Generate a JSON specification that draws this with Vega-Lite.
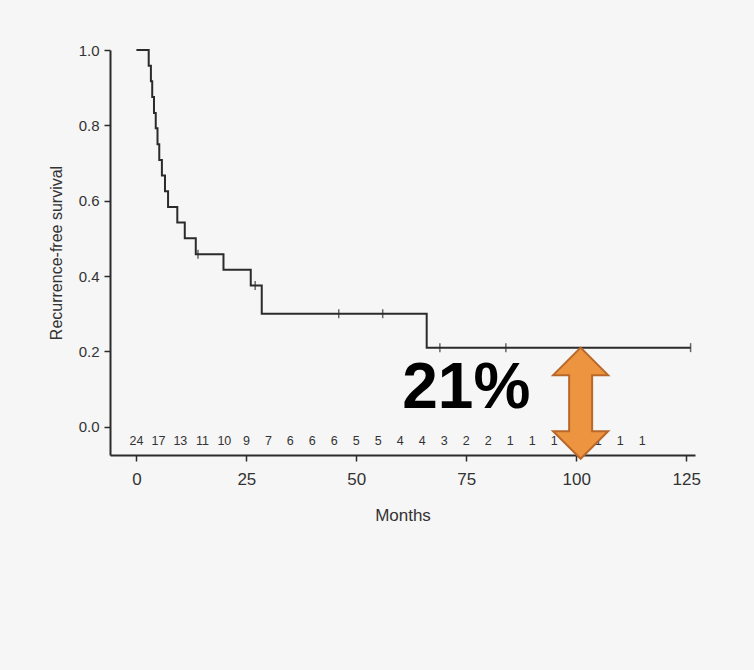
{
  "$schema": "https://vega.github.io/schema/vega-lite/v6.json",
  "width": 585,
  "height": 405,
  "autosize": {"type": "none"},
  "padding": {"left": 110, "top": 50, "right": 59, "bottom": 215},
  "background": "#f6f6f6",
  "config": {
    "view": {"stroke": null},
    "font": "Liberation Sans",
    "axis": {"grid": false, "domainColor": "#2b2b2b", "domainWidth": 2, "tickColor": "#2b2b2b", "tickWidth": 1.5, "tickSize": 6, "labelColor": "#333333", "titleColor": "#333333", "titleFontWeight": "normal", "labelFont": "Liberation Sans", "titleFont": "Liberation Sans"},
    "text": {"font": "Liberation Sans"}
  },
  "datasets": {
    "km": [
      {"month": 0, "surv": 1.0},
      {"month": 2.8, "surv": 0.958},
      {"month": 3.3, "surv": 0.917},
      {"month": 3.6, "surv": 0.875},
      {"month": 4.0, "surv": 0.833},
      {"month": 4.4, "surv": 0.792},
      {"month": 4.8, "surv": 0.75},
      {"month": 5.2, "surv": 0.708},
      {"month": 5.8, "surv": 0.667},
      {"month": 6.5, "surv": 0.625},
      {"month": 7.2, "surv": 0.583},
      {"month": 9.3, "surv": 0.542},
      {"month": 11, "surv": 0.5},
      {"month": 13.5, "surv": 0.458},
      {"month": 19.8, "surv": 0.417},
      {"month": 26, "surv": 0.375},
      {"month": 28.5, "surv": 0.3},
      {"month": 66, "surv": 0.21},
      {"month": 126, "surv": 0.21}
    ],
    "censor": [
      {"month": 14, "surv": 0.458},
      {"month": 27, "surv": 0.375},
      {"month": 46, "surv": 0.3},
      {"month": 56, "surv": 0.3},
      {"month": 69, "surv": 0.21},
      {"month": 84, "surv": 0.21},
      {"month": 126, "surv": 0.21}
    ],
    "risk": [
      {"month": 0, "n": "24"}, {"month": 5, "n": "17"}, {"month": 10, "n": "13"}, {"month": 15, "n": "11"},
      {"month": 20, "n": "10"}, {"month": 25, "n": "9"}, {"month": 30, "n": "7"}, {"month": 35, "n": "6"},
      {"month": 40, "n": "6"}, {"month": 45, "n": "6"}, {"month": 50, "n": "5"}, {"month": 55, "n": "5"},
      {"month": 60, "n": "4"}, {"month": 65, "n": "4"}, {"month": 70, "n": "3"}, {"month": 75, "n": "2"},
      {"month": 80, "n": "2"}, {"month": 85, "n": "1"}, {"month": 90, "n": "1"}, {"month": 95, "n": "1"},
      {"month": 100, "n": "1"}, {"month": 105, "n": "1"}, {"month": 110, "n": "1"}, {"month": 115, "n": "1"}
    ],
    "note": [{"month": 75, "surv": 0.1, "label": "21%"}],
    "arrow": [{"month": 101, "top": 0.21, "bottom": -0.085}]
  },
  "layer": [
    {
      "data": {"name": "km"},
      "mark": {"type": "line", "interpolate": "step-after", "color": "#2b2b2b", "strokeWidth": 2},
      "encoding": {
        "x": {"field": "month", "type": "quantitative", "scale": {"domain": [-6, 127], "nice": false, "zero": false}, "title": "Months",
          "axis": {"values": [0, 25, 50, 75, 100, 125], "labelFontSize": 17, "titleFontSize": 17, "labelPadding": 10, "titlePadding": 20}},
        "y": {"field": "surv", "type": "quantitative", "scale": {"domain": [-0.075, 1.0], "nice": false, "zero": false}, "title": "Recurrence-free survival",
          "axis": {"values": [0, 0.2, 0.4, 0.6, 0.8, 1.0], "format": ".1f", "labelFontSize": 15, "titleFontSize": 16, "labelPadding": 5, "titlePadding": 14}}
      }
    },
    {
      "data": {"name": "censor"},
      "mark": {"type": "tick", "orient": "vertical", "color": "#2b2b2b", "size": 9, "thickness": 1.5},
      "encoding": {
        "x": {"field": "month", "type": "quantitative", "title": "Months"},
        "y": {"field": "surv", "type": "quantitative", "title": "Recurrence-free survival"}
      }
    },
    {
      "data": {"name": "risk"},
      "mark": {"type": "text", "fontSize": 12.5, "color": "#333333"},
      "encoding": {
        "x": {"field": "month", "type": "quantitative", "title": "Months"},
        "y": {"datum": -0.038, "type": "quantitative", "title": "Recurrence-free survival"},
        "text": {"field": "n"}
      }
    },
    {
      "data": {"name": "note"},
      "mark": {"type": "text", "fontSize": 64, "fontWeight": "bold", "color": "#000000", "baseline": "middle"},
      "encoding": {
        "x": {"field": "month", "type": "quantitative", "title": "Months"},
        "y": {"field": "surv", "type": "quantitative", "title": "Recurrence-free survival"},
        "text": {"field": "label"}
      }
    },
    {
      "data": {"name": "arrow"},
      "mark": {"type": "rule", "color": "#b8682a", "strokeWidth": 25, "yOffset": 20, "y2Offset": -20},
      "encoding": {
        "x": {"field": "month", "type": "quantitative", "title": "Months"},
        "y": {"field": "top", "type": "quantitative", "title": "Recurrence-free survival"},
        "y2": {"field": "bottom"}
      }
    },
    {
      "data": {"name": "arrow"},
      "mark": {"type": "point", "shape": "M-1,1L0,0L1,1Z", "size": 3025, "filled": true, "fill": "#ec9440", "stroke": "#b8682a", "strokeWidth": 2, "opacity": 1},
      "encoding": {
        "x": {"field": "month", "type": "quantitative", "title": "Months"},
        "y": {"field": "top", "type": "quantitative", "title": "Recurrence-free survival"}
      }
    },
    {
      "data": {"name": "arrow"},
      "mark": {"type": "point", "shape": "M-1,-1L0,0L1,-1Z", "size": 3025, "filled": true, "fill": "#ec9440", "stroke": "#b8682a", "strokeWidth": 2, "opacity": 1},
      "encoding": {
        "x": {"field": "month", "type": "quantitative", "title": "Months"},
        "y": {"field": "bottom", "type": "quantitative", "title": "Recurrence-free survival"}
      }
    },
    {
      "data": {"name": "arrow"},
      "mark": {"type": "rule", "color": "#ec9440", "strokeWidth": 21, "yOffset": 20, "y2Offset": -20},
      "encoding": {
        "x": {"field": "month", "type": "quantitative", "title": "Months"},
        "y": {"field": "top", "type": "quantitative", "title": "Recurrence-free survival"},
        "y2": {"field": "bottom"}
      }
    }
  ]
}
